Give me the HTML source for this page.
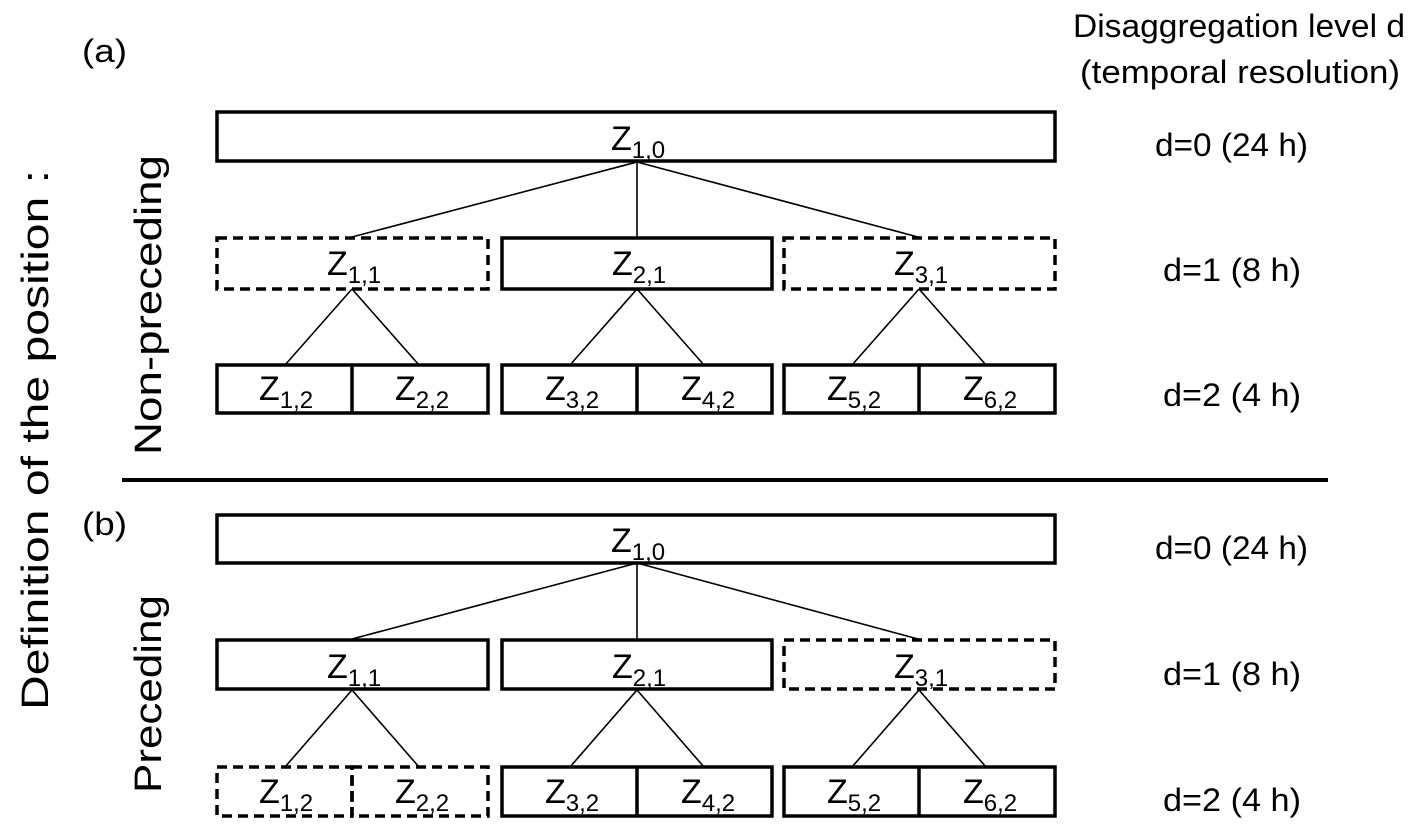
<!DOCTYPE html>
<html><head><meta charset="utf-8"><style>
html,body{margin:0;padding:0;background:#fff;}
svg{display:block;font-family:"Liberation Sans",sans-serif;}
</style></head><body>
<svg width="1417" height="831" viewBox="0 0 1417 831" xmlns="http://www.w3.org/2000/svg">
<g fill="none" stroke="#000" stroke-width="3.5">
<rect x="217" y="112" width="838" height="49"/>
<rect x="217" y="238" width="271" height="51" stroke-dasharray="10,6"/>
<rect x="502" y="238" width="270" height="51"/>
<rect x="784" y="238" width="271" height="51" stroke-dasharray="10,6"/>
<rect x="217" y="365" width="271" height="48"/>
<line x1="352" y1="365" x2="352" y2="413"/>
<rect x="502" y="365" width="270" height="48"/>
<line x1="637" y1="365" x2="637" y2="413"/>
<rect x="784" y="365" width="271" height="48"/>
<line x1="919" y1="365" x2="919" y2="413"/>
<rect x="217" y="515" width="838" height="48"/>
<rect x="217" y="640" width="271" height="49"/>
<rect x="502" y="640" width="270" height="49"/>
<rect x="784" y="640" width="271" height="49" stroke-dasharray="10,6"/>
<rect x="217" y="767" width="135" height="49" stroke-dasharray="10,6"/>
<rect x="352" y="767" width="136" height="49" stroke-dasharray="10,6"/>
<rect x="502" y="767" width="270" height="49"/>
<line x1="637" y1="767" x2="637" y2="816"/>
<rect x="784" y="767" width="271" height="49"/>
<line x1="919" y1="767" x2="919" y2="816"/>
<line x1="122" y1="480" x2="1328" y2="480" stroke-width="4"/>
</g>
<g stroke="#000" stroke-width="1.6" fill="none">
<line x1="637" y1="162" x2="352" y2="237"/><line x1="637" y1="162" x2="637" y2="237"/><line x1="637" y1="162" x2="918" y2="237"/>
<line x1="352" y1="289" x2="285" y2="365"/><line x1="352" y1="289" x2="419" y2="365"/>
<line x1="637" y1="289" x2="570" y2="365"/><line x1="637" y1="289" x2="704" y2="365"/>
<line x1="919" y1="289" x2="852" y2="365"/><line x1="919" y1="289" x2="986" y2="365"/>
<line x1="637" y1="563" x2="352" y2="639"/><line x1="637" y1="563" x2="637" y2="639"/><line x1="637" y1="563" x2="918" y2="639"/>
<line x1="352" y1="690" x2="285" y2="767"/><line x1="352" y1="690" x2="419" y2="767"/>
<line x1="637" y1="690" x2="570" y2="767"/><line x1="637" y1="690" x2="704" y2="767"/>
<line x1="919" y1="690" x2="852" y2="767"/><line x1="919" y1="690" x2="986" y2="767"/>
</g>
<g font-size="34" fill="#000">
<text x="611" y="150">Z<tspan font-size="24" dy="8">1,0</tspan></text>
<text x="327" y="275">Z<tspan font-size="24" dy="8">1,1</tspan></text>
<text x="612" y="275">Z<tspan font-size="24" dy="8">2,1</tspan></text>
<text x="894" y="275">Z<tspan font-size="24" dy="8">3,1</tspan></text>
<text x="259" y="400">Z<tspan font-size="24" dy="8">1,2</tspan></text>
<text x="395" y="400">Z<tspan font-size="24" dy="8">2,2</tspan></text>
<text x="545" y="400">Z<tspan font-size="24" dy="8">3,2</tspan></text>
<text x="681" y="400">Z<tspan font-size="24" dy="8">4,2</tspan></text>
<text x="827" y="400">Z<tspan font-size="24" dy="8">5,2</tspan></text>
<text x="963" y="400">Z<tspan font-size="24" dy="8">6,2</tspan></text>
<text x="611" y="552">Z<tspan font-size="24" dy="8">1,0</tspan></text>
<text x="327" y="678">Z<tspan font-size="24" dy="8">1,1</tspan></text>
<text x="612" y="678">Z<tspan font-size="24" dy="8">2,1</tspan></text>
<text x="894" y="678">Z<tspan font-size="24" dy="8">3,1</tspan></text>
<text x="259" y="803">Z<tspan font-size="24" dy="8">1,2</tspan></text>
<text x="395" y="803">Z<tspan font-size="24" dy="8">2,2</tspan></text>
<text x="545" y="803">Z<tspan font-size="24" dy="8">3,2</tspan></text>
<text x="681" y="803">Z<tspan font-size="24" dy="8">4,2</tspan></text>
<text x="827" y="803">Z<tspan font-size="24" dy="8">5,2</tspan></text>
<text x="963" y="803">Z<tspan font-size="24" dy="8">6,2</tspan></text>
</g>
<g font-size="32" fill="#000">
<text x="1073" y="37" textLength="332" lengthAdjust="spacingAndGlyphs">Disaggregation level d</text>
<text x="1080" y="83" textLength="320" lengthAdjust="spacingAndGlyphs">(temporal resolution)</text>
<text x="1155" y="156" textLength="153" lengthAdjust="spacingAndGlyphs">d=0 (24 h)</text>
<text x="1163" y="281" textLength="138" lengthAdjust="spacingAndGlyphs">d=1 (8 h)</text>
<text x="1163" y="406" textLength="138" lengthAdjust="spacingAndGlyphs">d=2 (4 h)</text>
<text x="1155" y="559" textLength="153" lengthAdjust="spacingAndGlyphs">d=0 (24 h)</text>
<text x="1163" y="685" textLength="138" lengthAdjust="spacingAndGlyphs">d=1 (8 h)</text>
<text x="1163" y="811" textLength="138" lengthAdjust="spacingAndGlyphs">d=2 (4 h)</text>
<text x="82" y="62" textLength="45" lengthAdjust="spacingAndGlyphs">(a)</text>
<text x="82" y="535" textLength="45" lengthAdjust="spacingAndGlyphs">(b)</text>
</g>
<g font-size="38" fill="#000">
<text transform="translate(48,440) rotate(-90)" text-anchor="middle" textLength="540" lengthAdjust="spacingAndGlyphs">Definition of the position :</text>
<text transform="translate(161,305) rotate(-90)" text-anchor="middle" textLength="300" lengthAdjust="spacingAndGlyphs">Non-preceding</text>
<text transform="translate(161,694) rotate(-90)" text-anchor="middle" textLength="198" lengthAdjust="spacingAndGlyphs">Preceding</text>
</g>
</svg>
</body></html>
